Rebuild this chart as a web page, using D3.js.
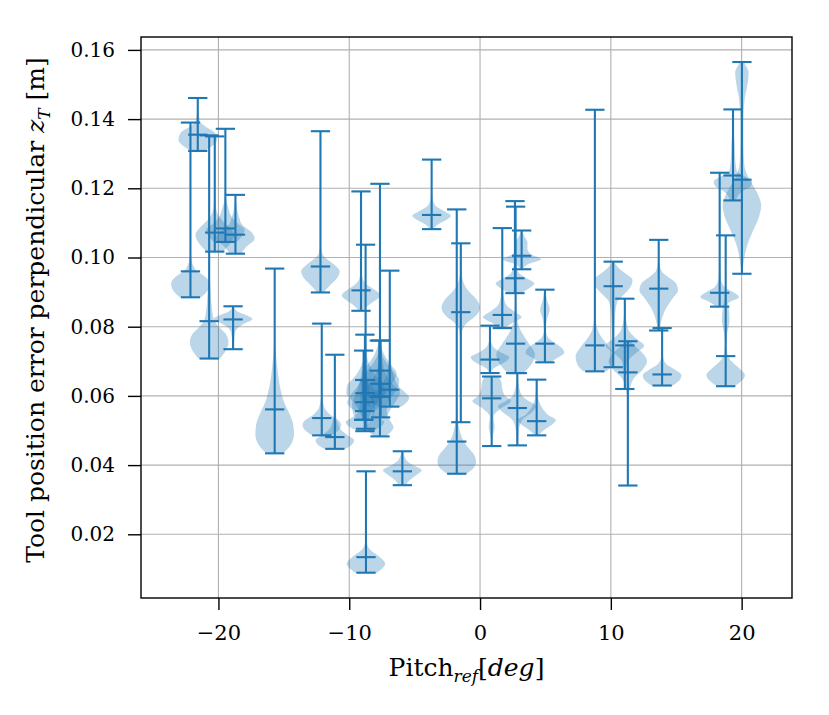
<!DOCTYPE html>
<html><head><meta charset="utf-8">
<script src="https://cdn.jsdelivr.net/npm/d3@7/dist/d3.min.js"></script>
<style>body{margin:0;background:#fff} text{font-family:"DejaVu Serif",serif;fill:#000}</style>
</head><body><svg id="c" width="829" height="715"></svg>
<script>
// Violin positions (pitch, deg)
const positions = [-22.14,-21.58,-20.71,-20.28,-19.47,-18.70,-18.88,-15.70,-12.20,-12.10,-11.10,-9.10,
  -8.75,-8.80,-8.90,-8.82,-7.65,-7.60,-7.70,-6.90,-8.72,-5.94,-3.70,-1.78,-1.47,0.76,0.89,1.70,
  2.67,2.72,2.85,3.18,4.33,4.96,8.78,10.18,11.07,11.30,13.66,13.92,18.32,18.78,19.34,20.02];
const minima = [0.0885,0.1308,0.0708,0.1017,0.1045,0.1011,0.0735,0.0434,0.0899,0.0486,0.0447,0.0846,
  0.0505,0.0498,0.0531,0.0556,0.0483,0.0538,0.0598,0.0569,0.0089,0.0342,0.1082,0.0375,0.0524,0.0666,0.0455,0.0796,
  0.0897,0.0666,0.0457,0.0966,0.0486,0.0697,0.0671,0.0683,0.0620,0.0341,0.0789,0.0630,0.0858,0.0628,0.1165,0.0953];
const maxima = [0.1390,0.1461,0.1353,0.1350,0.1372,0.1181,0.0859,0.0968,0.1365,0.0809,0.0719,0.1191,
  0.1037,0.0777,0.0731,0.0646,0.1213,0.0760,0.0760,0.0962,0.0382,0.0440,0.1283,0.1139,0.1041,0.0803,0.0656,0.1085,
  0.1163,0.1147,0.0666,0.1078,0.0647,0.0907,0.1427,0.0988,0.0881,0.0758,0.1051,0.0796,0.1245,0.1064,0.1428,0.1565];
const medians = [0.0960,0.1355,0.0816,0.1072,0.1084,0.1066,0.0821,0.0561,0.0974,0.0536,0.0481,0.0905,
  0.0646,0.0608,0.0531,0.0582,0.0635,0.0598,0.0673,0.0618,0.0134,0.0382,0.1123,0.0468,0.0842,0.0705,0.0593,0.0834,
  0.0940,0.0751,0.0565,0.1005,0.0527,0.0751,0.0746,0.0917,0.0746,0.0668,0.0910,0.0662,0.0898,0.0715,0.1237,0.1225];
// density outlines: [value, relative half-width]
const profiles = [
  [[0.0885,0.55],[0.0905,0.9],[0.0925,1.0],[0.0945,0.75],[0.096,0.35],[0.098,0.12],[0.100,0.04],[0.105,0.01],[0.139,0]],
  [[0.1308,0.35],[0.132,0.7],[0.134,1.0],[0.136,0.9],[0.1375,0.5],[0.139,0.15],[0.141,0.06],[0.143,0.02],[0.1461,0]],
  [[0.0708,0.55],[0.073,0.85],[0.0755,1.0],[0.078,0.85],[0.080,0.5],[0.082,0.25],[0.085,0.15],[0.09,0.08],[0.095,0.03],[0.10,0.01],[0.1353,0]],
  [[0.1017,0.4],[0.104,0.8],[0.1065,1.0],[0.109,0.7],[0.111,0.35],[0.113,0.12],[0.116,0.04],[0.12,0.01],[0.135,0]],
  [[0.1045,0.6],[0.1065,0.9],[0.108,1.0],[0.110,0.6],[0.112,0.3],[0.1145,0.15],[0.1165,0.05],[0.12,0.01],[0.1372,0]],
  [[0.1011,0.3],[0.103,0.55],[0.1055,1.0],[0.1075,0.8],[0.1095,0.35],[0.1115,0.2],[0.1135,0.1],[0.1155,0.04],[0.1181,0]],
  [[0.0735,0.03],[0.076,0.05],[0.079,0.15],[0.0808,0.55],[0.0822,1.0],[0.0835,0.6],[0.0845,0.2],[0.0859,0.03]],
  [[0.0434,0.45],[0.046,0.85],[0.049,1.0],[0.052,0.95],[0.055,0.75],[0.058,0.5],[0.062,0.3],[0.066,0.18],[0.07,0.1],[0.074,0.04],[0.08,0.01],[0.0968,0]],
  [[0.0899,0.15],[0.092,0.5],[0.094,0.85],[0.096,1.0],[0.098,0.7],[0.0995,0.35],[0.101,0.1],[0.104,0.02],[0.1365,0]],
  [[0.0486,0.5],[0.050,0.85],[0.0515,1.0],[0.053,0.85],[0.0545,0.45],[0.056,0.2],[0.058,0.08],[0.061,0.02],[0.0809,0]],
  [[0.0447,0.55],[0.046,0.9],[0.0472,1.0],[0.0485,0.7],[0.050,0.35],[0.052,0.15],[0.055,0.05],[0.06,0.01],[0.0719,0]],
  [[0.0846,0.1],[0.0865,0.45],[0.088,0.85],[0.089,1.0],[0.0905,0.75],[0.092,0.35],[0.094,0.08],[0.097,0.02],[0.1191,0]],
  [[0.0505,0.1],[0.054,0.2],[0.058,0.6],[0.061,1.0],[0.063,0.95],[0.066,0.5],[0.069,0.2],[0.072,0.06],[0.08,0.01],[0.1037,0]],
  [[0.0498,0.35],[0.051,0.8],[0.0525,1.0],[0.054,0.6],[0.056,0.3],[0.059,0.25],[0.062,0.2],[0.066,0.1],[0.07,0.04],[0.0777,0]],
  [[0.0531,0.3],[0.055,0.55],[0.0575,0.6],[0.06,0.45],[0.063,0.25],[0.067,0.1],[0.0731,0]],
  [[0.0556,0.5],[0.058,0.9],[0.0605,0.7],[0.0625,0.4],[0.0646,0.2]],
  [[0.0483,0.3],[0.051,0.7],[0.053,0.5],[0.056,0.35],[0.059,0.5],[0.062,0.9],[0.0645,1.0],[0.067,0.7],[0.0695,0.35],[0.072,0.12],[0.076,0.03],[0.085,0.01],[0.1213,0]],
  [[0.0538,0.3],[0.056,0.5],[0.0585,0.8],[0.061,1.0],[0.0635,0.6],[0.066,0.3],[0.07,0.1],[0.076,0]],
  [[0.0598,0.3],[0.063,0.6],[0.0665,0.9],[0.069,0.6],[0.072,0.25],[0.076,0.02]],
  [[0.0569,0.6],[0.058,0.85],[0.0595,1.0],[0.061,0.8],[0.0625,0.5],[0.065,0.25],[0.068,0.1],[0.072,0.03],[0.08,0.01],[0.0962,0]],
  [[0.0089,0.55],[0.0105,0.9],[0.0115,1.0],[0.013,0.8],[0.0145,0.45],[0.016,0.15],[0.018,0.04],[0.022,0.01],[0.0382,0]],
  [[0.0342,0.2],[0.0355,0.35],[0.037,0.7],[0.0385,1.0],[0.040,0.55],[0.0415,0.2],[0.044,0.05]],
  [[0.1082,0.1],[0.1095,0.3],[0.111,0.8],[0.112,1.0],[0.1132,0.7],[0.1145,0.3],[0.116,0.1],[0.118,0.03],[0.122,0.01],[0.1283,0]],
  [[0.0375,0.5],[0.039,0.85],[0.041,1.0],[0.043,0.9],[0.045,0.6],[0.047,0.35],[0.049,0.2],[0.052,0.08],[0.055,0.03],[0.06,0.01],[0.1139,0]],
  [[0.0524,0],[0.07,0.01],[0.078,0.05],[0.081,0.3],[0.083,0.75],[0.0855,1.0],[0.088,0.8],[0.090,0.45],[0.092,0.2],[0.094,0.08],[0.097,0.02],[0.1041,0]],
  [[0.0666,0.05],[0.068,0.2],[0.0695,0.7],[0.0712,1.0],[0.0725,0.6],[0.074,0.2],[0.076,0.05],[0.0803,0.01]],
  [[0.0455,0.02],[0.048,0.05],[0.051,0.15],[0.054,0.1],[0.0565,0.5],[0.0585,1.0],[0.060,0.7],[0.062,0.55],[0.064,0.5],[0.0656,0.35]],
  [[0.0796,0.1],[0.081,0.5],[0.0828,1.0],[0.0845,0.6],[0.086,0.25],[0.088,0.1],[0.091,0.04],[0.095,0.01],[0.1085,0]],
  [[0.0897,0.3],[0.091,0.7],[0.0925,1.0],[0.094,0.6],[0.0955,0.2],[0.098,0.05],[0.103,0.01],[0.1163,0]],
  [[0.0666,0.4],[0.069,0.8],[0.072,1.0],[0.075,0.7],[0.078,0.35],[0.081,0.12],[0.085,0.04],[0.09,0.01],[0.1147,0]],
  [[0.0457,0.05],[0.05,0.08],[0.053,0.25],[0.0555,0.8],[0.057,1.0],[0.0585,0.6],[0.060,0.25],[0.063,0.08],[0.0666,0.02]],
  [[0.0966,0.05],[0.098,0.3],[0.0995,1.0],[0.101,0.45],[0.1025,0.3],[0.1045,0.3],[0.106,0.15],[0.1078,0.03]],
  [[0.0486,0.1],[0.050,0.35],[0.0515,0.75],[0.053,1.0],[0.0545,0.6],[0.056,0.35],[0.058,0.15],[0.061,0.05],[0.0647,0.01]],
  [[0.0697,0.3],[0.071,0.65],[0.0725,1.0],[0.074,0.85],[0.0755,0.45],[0.077,0.15],[0.079,0.05],[0.082,0.1],[0.085,0.25],[0.0875,0.12],[0.0907,0.02]],
  [[0.0671,0.6],[0.069,0.9],[0.0715,1.0],[0.074,0.75],[0.0765,0.4],[0.079,0.15],[0.082,0.05],[0.088,0.01],[0.1427,0]],
  [[0.0683,0.02],[0.075,0.05],[0.082,0.08],[0.087,0.2],[0.089,0.5],[0.0915,0.9],[0.0935,1.0],[0.0955,0.6],[0.0975,0.2],[0.0988,0.05]],
  [[0.062,0.02],[0.066,0.05],[0.07,0.15],[0.0725,0.6],[0.0745,1.0],[0.0765,0.6],[0.079,0.2],[0.083,0.05],[0.0881,0.01]],
  [[0.0341,0],[0.05,0.01],[0.06,0.05],[0.065,0.3],[0.0675,0.75],[0.070,1.0],[0.0725,0.75],[0.0745,0.35],[0.0758,0.15]],
  [[0.0789,0.05],[0.082,0.15],[0.085,0.35],[0.088,0.7],[0.0905,1.0],[0.0925,0.9],[0.0945,0.45],[0.096,0.15],[0.099,0.03],[0.1051,0]],
  [[0.063,0.55],[0.0645,0.9],[0.066,1.0],[0.0675,0.7],[0.069,0.25],[0.071,0.06],[0.075,0.02],[0.0796,0.01]],
  [[0.0858,0.15],[0.0872,0.55],[0.0885,1.0],[0.090,0.7],[0.0915,0.25],[0.094,0.06],[0.1,0.02],[0.11,0.01],[0.1245,0]],
  [[0.0628,0.45],[0.0645,0.85],[0.066,1.0],[0.068,0.7],[0.070,0.3],[0.072,0.1],[0.075,0.04],[0.078,0.08],[0.082,0.2],[0.0855,0.15],[0.088,0.05],[0.092,0.01],[0.1064,0]],
  [[0.1165,0.15],[0.119,0.45],[0.1205,0.9],[0.122,1.0],[0.1235,0.6],[0.125,0.2],[0.128,0.12],[0.133,0.08],[0.137,0.04],[0.1428,0.01]],
  [[0.0953,0.02],[0.099,0.1],[0.104,0.3],[0.108,0.6],[0.112,0.9],[0.115,1.0],[0.118,0.85],[0.121,0.55],[0.1235,0.3],[0.127,0.12],[0.133,0.08],[0.14,0.08],[0.146,0.15],[0.1505,0.3],[0.1535,0.35],[0.1555,0.2],[0.1565,0.1]]
];
const xTicks = [-20, -10, 0, 10, 20];
const yTicks = [0.02, 0.04, 0.06, 0.08, 0.10, 0.12, 0.14, 0.16];

const violinWidth = 2.95;
const color = "#1f77b4";
const L = 141, R = 792, T = 37, B = 598;
const svg = d3.select("#c");
const x = d3.scaleLinear().domain([-25.92, 23.85]).range([L, R]);
const y = d3.scaleLinear().domain([0.00159, 0.16373]).range([B, T]);

svg.append("defs").append("clipPath").attr("id", "clip")
  .append("rect").attr("x", L).attr("y", T).attr("width", R - L).attr("height", B - T);

// grid
const grid = svg.append("g");
grid.selectAll(".gx").data(xTicks).join("line")
  .attr("x1", d => x(d)).attr("x2", d => x(d)).attr("y1", T).attr("y2", B)
  .attr("stroke", "#b0b0b0").attr("stroke-width", 1.1);
grid.selectAll(".gy").data(yTicks).join("line")
  .attr("x1", L).attr("x2", R).attr("y1", d => y(d)).attr("y2", d => y(d))
  .attr("stroke", "#b0b0b0").attr("stroke-width", 1.1);

// violins
const data = positions.map((p, i) => ({pos: p, min: minima[i], max: maxima[i], med: medians[i], prof: profiles[i]}));
const half = violinWidth / 2;
const plot = svg.append("g").attr("clip-path", "url(#clip)");
plot.selectAll("path.body").data(data).join("path").attr("class", "body")
  .attr("d", d => d3.area()
      .y(p => y(p[0]))
      .x0(p => x(d.pos - p[1] * half))
      .x1(p => x(d.pos + p[1] * half))
      .curve(d3.curveMonotoneY)(d.prof))
  .attr("fill", color).attr("fill-opacity", 0.3).attr("stroke", "none");

const lines = plot.append("g").attr("stroke", color).attr("stroke-width", 2.1);
lines.selectAll("line.bar").data(data).join("line")
  .attr("x1", d => x(d.pos)).attr("x2", d => x(d.pos))
  .attr("y1", d => y(d.min)).attr("y2", d => y(d.max));
const capHalf = violinWidth / 4;
["min", "max", "med"].forEach(k => {
  lines.selectAll("line.cap-" + k).data(data).join("line").attr("class", "cap-" + k)
    .attr("x1", d => x(d.pos - capHalf)).attr("x2", d => x(d.pos + capHalf))
    .attr("y1", d => y(d[k])).attr("y2", d => y(d[k]));
});

// axes
const fmtX = d => (d < 0 ? "\u2212" + Math.abs(d) : String(d));
const ax = svg.append("g").attr("transform", `translate(0,${B})`)
  .call(d3.axisBottom(x).tickValues(xTicks).tickSize(12).tickPadding(15).tickFormat(fmtX));
const ay = svg.append("g").attr("transform", `translate(${L},0)`)
  .call(d3.axisLeft(y).tickValues(yTicks).tickSize(13).tickPadding(13).tickFormat(d3.format(".2f")));
[ax, ay].forEach(g => {
  g.select(".domain").remove();
  g.selectAll(".tick line").attr("stroke", "#000").attr("stroke-width", 1.4);
  g.selectAll(".tick text").attr("font-family", "DejaVu Serif").attr("font-size", 20).attr("fill", "#000");
});
ax.selectAll(".tick text").attr("font-size", 21);

svg.append("rect").attr("x", L).attr("y", T).attr("width", R - L).attr("height", B - T)
  .attr("fill", "none").attr("stroke", "#000").attr("stroke-width", 1.4);

// x label
const xl = svg.append("text").attr("x", (L + R) / 2).attr("y", 676).attr("text-anchor", "middle").attr("font-size", 25);
xl.append("tspan").text("Pitch");
xl.append("tspan").attr("font-style", "italic").attr("font-size", 17).attr("dy", 6).text("ref");
xl.append("tspan").attr("dy", -6).text("[");
xl.append("tspan").attr("font-style", "italic").text("deg");
xl.append("tspan").text("]");

// y label
const yl = svg.append("text").attr("transform", `translate(44,310) rotate(-90)`)
  .attr("text-anchor", "middle").attr("font-size", 25);
yl.append("tspan").text("Tool position error perpendicular ");
yl.append("tspan").attr("font-style", "italic").text("z");
yl.append("tspan").attr("font-style", "italic").attr("font-size", 17).attr("dy", 6).text("T");
yl.append("tspan").attr("dy", -6).text(" [m]");
</script>
</body></html>
